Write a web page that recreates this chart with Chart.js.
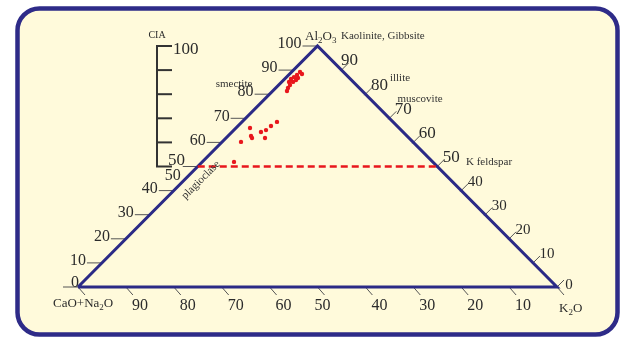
<!DOCTYPE html>
<html><head><meta charset="utf-8">
<script src="https://cdn.jsdelivr.net/npm/chart.js@4.4.1/dist/chart.umd.min.js"></script>
<style>html,body{margin:0;padding:0;background:#fff;}canvas{display:block;}</style>
</head><body>
<canvas id="c" width="624" height="338"></canvas>
<script>
// Sample compositions (molar %, A = Al2O3, K = K2O, CN = 100 - A - K)
const alumina = [89.2, 88.4, 88.0, 86.7, 87.1, 86.3, 85.9, 85.1, 85.1, 83.8, 82.6, 81.3,
                 68.5, 66.8, 65.1, 64.3, 66.0, 62.7, 61.8, 61.8, 60.2, 51.9];
const potash  = [1.75, 2.56, 1.72, 2.58, 1.54, 1.32, 2.56, 2.34, 1.50, 2.36, 2.54, 2.98,
                 7.29, 6.89, 6.70, 6.05, 2.91, 4.77, 5.43, 8.14, 3.93, 6.62];
// Axis ticks
const leftTicks  = [0, 10, 20, 30, 40, 50, 60, 70, 80, 90, 100];   // A along CN-A edge
const rightTicks = [0, 10, 20, 30, 40, 50, 60, 70, 80, 90];        // A along A-K edge
const baseTicks  = [0, 10, 20, 30, 40, 50, 60, 70, 80, 90, 100];   // CN along base
const baseLabels = [10, 20, 30, 40, 50, 60, 70, 80, 90];
const ciaTicks   = [50, 60, 70, 80, 90, 100];
const ciaLabels  = [50, 100];
const boundaryCIA = 50;

function tern(A, K) { return { x: K + A / 2, y: A }; }

const triangle = [tern(0, 0), tern(0, 100), tern(100, 0), tern(0, 0)];
const boundary = [tern(boundaryCIA, 0), tern(boundaryCIA, 100 - boundaryCIA)];
const samples = alumina.map((a, i) => tern(a, potash[i]));

const SERIF = '"Liberation Serif", "DejaVu Serif", serif';
const TXT = '#2b2b2b';

function roundRect(c, x, y, w, h, r) {
  c.beginPath();
  c.moveTo(x + r, y);
  c.lineTo(x + w - r, y); c.arcTo(x + w, y, x + w, y + r, r);
  c.lineTo(x + w, y + h - r); c.arcTo(x + w, y + h, x + w - r, y + h, r);
  c.lineTo(x + r, y + h); c.arcTo(x, y + h, x, y + h - r, r);
  c.lineTo(x, y + r); c.arcTo(x, y, x + r, y, r);
  c.closePath();
}

function chem(c, parts, x, y, size) {
  c.textAlign = 'left'; c.textBaseline = 'alphabetic';
  let cx = x;
  parts.forEach(([t, sub]) => {
    const s = sub ? Math.round(size * 0.7) : size;
    c.font = s + 'px ' + SERIF;
    c.fillText(t, cx, sub ? y + size * 0.25 : y);
    cx += c.measureText(t).width;
  });
}

const bgPlugin = {
  id: 'bg',
  beforeDraw(chart) {
    const c = chart.ctx;
    c.save();
    c.fillStyle = '#ffffff';
    c.fillRect(0, 0, chart.width, chart.height);
    roundRect(c, 17.5, 8.5, 600, 326, 22);
    c.fillStyle = '#fffadb';
    c.fill();
    c.lineWidth = 4.5;
    c.strokeStyle = '#2e2b88';
    c.stroke();
    c.restore();
  }
};

const annoPlugin = {
  id: 'anno',
  beforeDatasetsDraw(chart) {
    const c = chart.ctx, sx = chart.scales.x, sy = chart.scales.y;
    const P = (p) => ({ x: sx.getPixelForValue(p.x), y: sy.getPixelForValue(p.y) });
    c.save();
    c.strokeStyle = '#555';
    c.lineWidth = 1;
    leftTicks.forEach(v => {
      const p = P(tern(v, 0));
      c.beginPath(); c.moveTo(p.x - 15, p.y); c.lineTo(p.x, p.y); c.stroke();
    });
    rightTicks.forEach(v => {
      const p = P(tern(v, 100 - v));
      c.beginPath(); c.moveTo(p.x - 1, p.y + 1); c.lineTo(p.x + 7, p.y - 7); c.stroke();
    });
    baseTicks.forEach(v => {
      const p = P({ x: 100 - v, y: 0 });
      c.beginPath(); c.moveTo(p.x, p.y); c.lineTo(p.x + 7, p.y + 8); c.stroke();
    });
    const cx0 = 157;
    c.strokeStyle = '#333';
    c.lineWidth = 2;
    c.beginPath();
    c.moveTo(cx0, sy.getPixelForValue(ciaTicks[ciaTicks.length - 1]));
    c.lineTo(cx0, sy.getPixelForValue(ciaTicks[0]));
    c.stroke();
    ciaTicks.forEach(v => {
      const y = sy.getPixelForValue(v);
      c.beginPath(); c.moveTo(cx0 - 1, y); c.lineTo(cx0 + 15, y); c.stroke();
    });
    c.restore();
  },
  afterDraw(chart) {
    const c = chart.ctx, sx = chart.scales.x, sy = chart.scales.y;
    const P = (p) => ({ x: sx.getPixelForValue(p.x), y: sy.getPixelForValue(p.y) });
    c.save();
    c.fillStyle = TXT;
    c.font = '16px ' + SERIF;
    c.textAlign = 'right'; c.textBaseline = 'middle';
    leftTicks.forEach(v => {
      const p = P(tern(v, 0));
      let x = p.x - 16, y = p.y - 2;
      if (v === 0) { x = p.x + 1; y = p.y - 4; }
      if (v === 50) { x = p.x - 17; y = p.y + 9; }
      c.fillText(String(v), x, y);
    });
    c.textAlign = 'center';
    rightTicks.forEach(v => {
      const p = P(tern(v, 100 - v));
      c.font = (v >= 50 ? 17 : 15) + 'px ' + SERIF;
      if (v === 0) c.fillText(String(v), p.x + 12, p.y - 2);
      else if (v === 90) c.fillText(String(v), p.x + 8, p.y - 10);
      else c.fillText(String(v), p.x + 14, p.y - 9);
    });
    c.font = '16px ' + SERIF;
    baseLabels.forEach(v => {
      const p = P({ x: 100 - v, y: 0 });
      c.fillText(String(v), p.x + (v === 50 ? 5 : 14), p.y + 19);
    });
    c.textAlign = 'left';
    ciaLabels.forEach(v => {
      const y = sy.getPixelForValue(v);
      c.font = '17px ' + SERIF;
      if (v === 100) c.fillText(String(v), 173, y + 4);
      else c.fillText(String(v), 168, y - 6);
    });
    c.font = '10px ' + SERIF;
    c.textAlign = 'center';
    c.fillText('CIA', 157, sy.getPixelForValue(100) - 11);

    chem(c, [['Al', 0], ['2', 1], ['O', 0], ['3', 1]], 305, 40, 13);
    chem(c, [['CaO+Na', 0], ['2', 1], ['O', 0]], 53, 307, 13);
    chem(c, [['K', 0], ['2', 1], ['O', 0]], 559, 312, 13);

    c.font = '11px ' + SERIF;
    c.fillStyle = '#333';
    c.textBaseline = 'middle';
    c.textAlign = 'left';
    c.fillText('Kaolinite, Gibbsite', 341, 36);
    c.fillText('K feldspar', 466, 162);
    c.textAlign = 'center';
    c.fillText('smectite', 234, 84);
    c.fillText('illite', 400, 78);
    c.fillText('muscovite', 420, 99);
    c.save();
    c.translate(201, 180);
    c.rotate(-Math.PI / 4);
    c.fillText('plagioclase', 0, 0);
    c.restore();
    c.restore();
  }
};

new Chart(document.getElementById('c').getContext('2d'), {
  type: 'scatter',
  data: {
    datasets: [
      { label: 'samples', data: samples, backgroundColor: '#e8161c', borderWidth: 0,
        pointRadius: 2.2, clip: false },
      { label: 'CIA 50', data: boundary, showLine: true, borderColor: '#e8161c', borderWidth: 2.5,
        borderDash: [7, 4], pointRadius: 0, clip: false, fill: false },
      { label: 'A-CN-K', data: triangle, showLine: true, borderColor: '#2b2a86', borderWidth: 3,
        pointRadius: 0, clip: false, fill: false, borderJoinStyle: 'miter' }
    ]
  },
  options: {
    responsive: false,
    animation: false,
    events: [],
    layout: { padding: { left: 78, right: 67, top: 46, bottom: 51 } },
    scales: {
      x: { type: 'linear', min: 0, max: 100, display: false },
      y: { type: 'linear', min: 0, max: 100, display: false }
    },
    plugins: { legend: { display: false }, tooltip: { enabled: false } }
  },
  plugins: [bgPlugin, annoPlugin]
});
</script>
</body></html>
